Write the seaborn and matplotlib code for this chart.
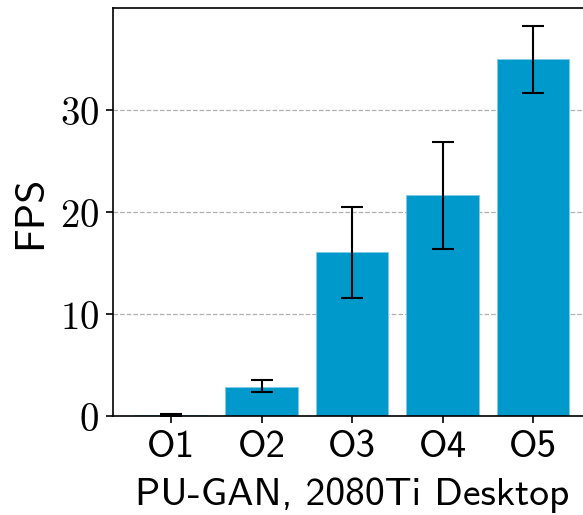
import os
import matplotlib
matplotlib.use("Agg")
import matplotlib.pyplot as plt
from matplotlib.font_manager import FontProperties
import seaborn as sns
import numpy as np

categories = ["O1", "O2", "O3", "O4", "O5"]
fps_mean = [0.15, 2.9, 16.1, 21.7, 35.0]
fps_low = [0.05, 2.35, 11.6, 16.4, 31.7]
fps_high = [0.25, 3.5, 20.5, 26.9, 38.3]
yticks = [0, 10, 20, 30]

sns.set_style("ticks")
plt.rcParams["mathtext.fontset"] = "cm"
plt.rcParams["text.color"] = "black"
plt.rcParams["axes.labelcolor"] = "black"

cmss = os.path.join(matplotlib.get_data_path(), "fonts", "ttf", "cmss10.ttf")
tick_font = FontProperties(fname=cmss, size=28)
label_font = FontProperties(fname=cmss, size=28.5)
ylab_font = FontProperties(fname=cmss, size=30)

fig = plt.figure(figsize=(5.83, 5.15), dpi=100)
ax = fig.add_axes([0.194, 0.192, 0.82, 0.792])

sns.barplot(x=categories, y=fps_mean, color="#0099cc", saturation=1, width=0.8,
            edgecolor="#80cce6", linewidth=0.6, ax=ax, zorder=2)

x = np.arange(len(categories))
mean = np.array(fps_mean)
yerr = [mean - np.array(fps_low), np.array(fps_high) - mean]
ax.errorbar(x, mean, yerr=yerr, fmt="none", ecolor="black", elinewidth=1.5,
            capsize=8, capthick=1.5, zorder=3)

ax.set_ylim(0, 40)
ax.set_xlim(-0.64, 4.64)
ax.set_yticks(yticks)
ax.set_yticklabels([f"${v}$" for v in yticks], fontsize=28)
ax.set_xticks(x)
ax.set_xticklabels(categories, fontproperties=tick_font)
ax.set_ylabel("FPS", fontproperties=ylab_font, labelpad=8, color="black")
ax.set_xlabel("PU-GAN, 2080Ti Desktop", fontproperties=label_font, labelpad=9,
              color="black")

ax.yaxis.grid(True, linestyle="--", color="#b0b0b0", linewidth=0.9, zorder=0)
ax.set_axisbelow(True)
ax.tick_params(axis="both", direction="out", length=5, width=1.2, colors="black",
               labelcolor="black", pad=5)
for side in ["left", "bottom", "top"]:
    ax.spines[side].set_color("black")
    ax.spines[side].set_linewidth(1.2)
ax.spines["right"].set_visible(False)

fig.savefig("out.png", dpi=100)
